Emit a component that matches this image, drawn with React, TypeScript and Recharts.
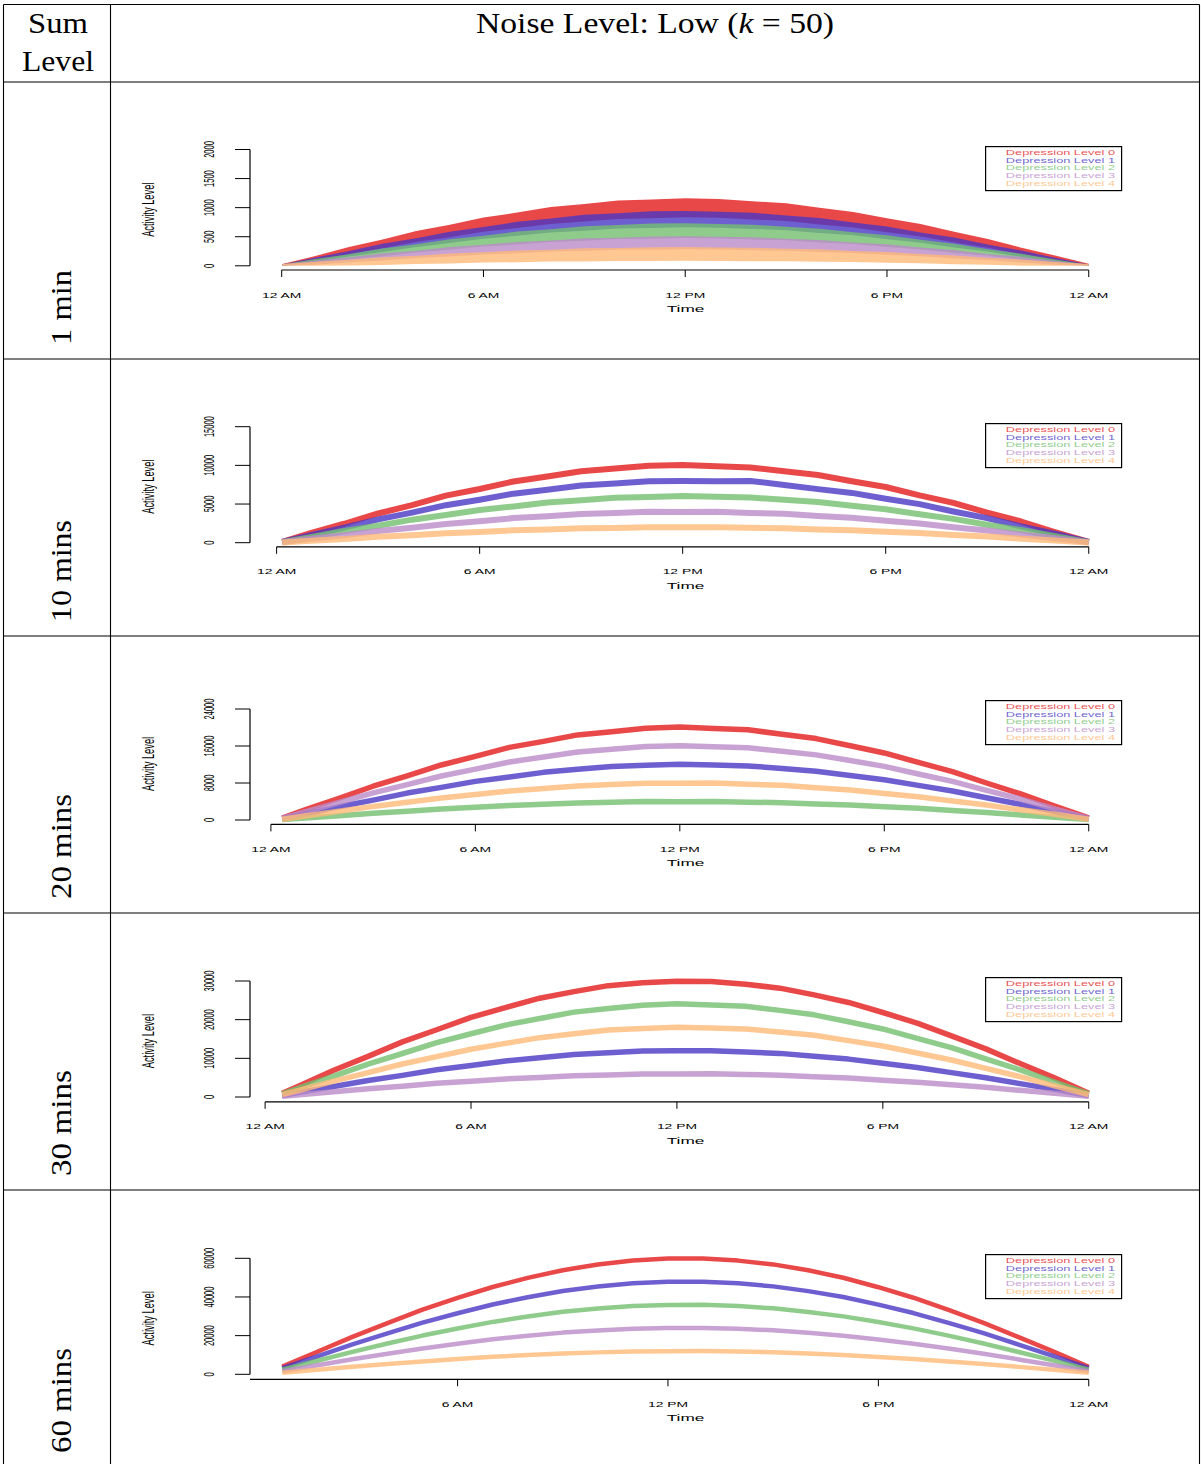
import React from 'react';
import { ComposedChart, Line, Area, XAxis, YAxis, ReferenceLine, Legend } from 'recharts';

// ---- labels -------------------------------------------------------------
const seriesNames = [
  'Depression Level 0',
  'Depression Level 1',
  'Depression Level 2',
  'Depression Level 3',
  'Depression Level 4',
];
const seriesColors = ['#E41A1C', '#4A37C4', '#73BF6F', '#BB8BC9', '#FFB977'];
const timeTickLabels = ['12 AM', '6 AM', '12 PM', '6 PM', '12 AM'];
const sumLevels = ['1 min', '10 mins', '20 mins', '30 mins', '60 mins'];
const sumLabelLengths = [75, 102, 105, 106, 105];

// ---- 1 min sums: noisy band (low / high) per level, sampled hourly -------
const oneMinX = [1, 60, 120, 180, 240, 300, 360, 420, 480, 540, 600, 660, 720, 780, 840, 900, 960, 1020, 1080, 1140, 1200, 1260, 1320, 1380, 1440];
const oneMinLow = [
  [0, 88, 204, 300, 410, 492, 586, 650, 720, 760, 806, 818, 834, 826, 798, 770, 712, 658, 576, 502, 400, 310, 196, 94, 0],
  [0, 66, 160, 236, 324, 390, 466, 516, 572, 604, 640, 650, 664, 656, 634, 612, 566, 524, 456, 398, 316, 244, 152, 70, 0],
  [0, 42, 110, 166, 230, 274, 332, 366, 410, 430, 460, 464, 476, 470, 452, 438, 402, 374, 324, 282, 222, 172, 104, 46, 0],
  [0, 18, 60, 92, 134, 160, 196, 214, 244, 254, 274, 276, 284, 280, 266, 260, 236, 220, 188, 166, 126, 98, 56, 20, 0],
  [0, 0, 6, 15, 32, 40, 55, 60, 72, 75, 83, 82, 86, 84, 80, 78, 68, 64, 51, 44, 28, 18, 3, 0, 0],
];
const oneMinHigh = [
  [30, 170, 325, 452, 598, 706, 830, 915, 1012, 1062, 1124, 1140, 1160, 1148, 1110, 1075, 998, 926, 818, 720, 584, 462, 312, 176, 34],
  [24, 142, 254, 378, 474, 586, 666, 756, 812, 876, 904, 936, 944, 928, 912, 866, 822, 744, 676, 574, 486, 368, 262, 138, 22],
  [22, 115, 200, 296, 370, 456, 516, 588, 630, 680, 700, 726, 732, 718, 708, 670, 638, 576, 524, 446, 378, 286, 206, 110, 20],
  [26, 90, 146, 214, 260, 322, 360, 410, 436, 474, 484, 504, 508, 498, 492, 464, 444, 400, 370, 314, 270, 204, 154, 84, 24],
  [32, 70, 102, 146, 172, 210, 232, 264, 278, 302, 306, 320, 322, 316, 312, 294, 284, 256, 238, 204, 178, 138, 108, 66, 30],
];

// ---- 10 min sums ----------------------------------------------------------
const tenMinX = [1, 6, 12, 18, 24, 30, 36, 42, 48, 54, 60, 66, 72, 78, 84, 90, 96, 102, 108, 114, 120, 126, 132, 138, 144];
const tenMinSeries = [
  [120, 1230, 2450, 3780, 4860, 6080, 6940, 7920, 8560, 9250, 9590, 9950, 10050, 9890, 9720, 9240, 8760, 7950, 7200, 6120, 5150, 3880, 2740, 1380, 110],
  [90, 980, 1950, 3020, 3890, 4850, 5560, 6340, 6850, 7400, 7670, 7960, 7980, 7950, 7990, 7460, 6930, 6440, 5680, 4990, 4040, 3180, 2110, 1160, 90],
  [70, 700, 1520, 2200, 2980, 3570, 4230, 4690, 5190, 5490, 5810, 5910, 6030, 5940, 5840, 5540, 5250, 4770, 4320, 3680, 3080, 2330, 1640, 830, 70],
  [50, 500, 970, 1520, 1940, 2430, 2770, 3180, 3420, 3700, 3830, 3990, 3980, 3990, 3850, 3740, 3460, 3230, 2830, 2490, 2010, 1590, 1050, 580, 50],
  [30, 250, 480, 770, 960, 1230, 1380, 1600, 1700, 1860, 1910, 2010, 1990, 2010, 1920, 1880, 1720, 1620, 1410, 1260, 1000, 800, 520, 300, 30],
];

// ---- 20 min sums ----------------------------------------------------------
const twentyMinX = [1, 3, 6, 9, 12, 15, 18, 21, 24, 27, 30, 33, 36, 39, 42, 45, 48, 51, 54, 57, 60, 63, 66, 69, 72];
const twentyMinSeries = [
  [440, 2200, 4700, 7300, 9560, 11900, 13750, 15700, 17000, 18400, 19100, 19850, 20100, 19800, 19500, 18550, 17600, 16050, 14500, 12450, 10450, 8000, 5650, 3000, 440],
  [270, 1290, 2880, 4300, 5820, 7050, 8350, 9300, 10300, 10950, 11560, 11820, 12050, 11880, 11700, 11150, 10560, 9640, 8700, 7480, 6260, 4800, 3390, 1800, 270],
  [90, 450, 930, 1480, 1900, 2390, 2740, 3150, 3390, 3690, 3820, 3980, 3970, 4000, 3860, 3750, 3480, 3250, 2870, 2530, 2050, 1630, 1100, 620, 90],
  [350, 1760, 3780, 5850, 7650, 9520, 11000, 12550, 13620, 14700, 15300, 15880, 16050, 15850, 15600, 14850, 14080, 12850, 11600, 9950, 8350, 6400, 4520, 2400, 350],
  [180, 880, 1880, 2940, 3820, 4770, 5500, 6280, 6800, 7360, 7650, 7950, 7970, 7990, 7740, 7490, 6980, 6480, 5750, 5040, 4120, 3250, 2210, 1240, 180],
];

// ---- 30 min sums ----------------------------------------------------------
const thirtyMinX = [1, 2, 4, 6, 8, 10, 12, 14, 16, 18, 20, 22, 24, 26, 28, 30, 32, 34, 36, 38, 40, 42, 44, 46, 48];
const thirtyMinSeries = [
  [990, 2900, 6900, 10500, 14250, 17400, 20600, 23100, 25550, 27250, 28800, 29550, 29950, 29900, 29150, 28150, 26400, 24450, 21850, 19100, 15800, 12450, 8650, 4950, 990],
  [400, 1190, 2700, 4280, 5600, 7050, 8150, 9330, 10150, 10980, 11450, 11880, 11960, 11990, 11650, 11280, 10540, 9800, 8720, 7650, 6300, 4990, 3450, 1980, 400],
  [800, 2380, 5400, 8520, 11250, 14050, 16350, 18600, 20300, 21950, 22900, 23750, 24100, 23800, 23450, 22400, 21250, 19450, 17600, 15150, 12750, 9850, 7020, 3880, 800],
  [200, 600, 1340, 2140, 2800, 3530, 4080, 4680, 5060, 5500, 5720, 5950, 5980, 6000, 5820, 5640, 5260, 4910, 4350, 3830, 3140, 2500, 1720, 990, 200],
  [600, 1750, 4120, 6300, 8540, 10430, 12350, 13870, 15350, 16340, 17300, 17700, 18050, 17850, 17600, 16800, 15950, 14580, 13200, 11380, 9560, 7400, 5260, 2900, 600],
];

// ---- 60 min sums ----------------------------------------------------------
const sixtyMinX = [1, 2, 3, 4, 5, 6, 7, 8, 9, 10, 11, 12, 13, 14, 15, 16, 17, 18, 19, 20, 21, 22, 23, 24];
const sixtyMinSeries = [
  [3950, 11650, 19350, 26480, 33400, 39500, 45150, 49850, 53850, 56780, 58900, 59850, 59900, 58800, 56850, 53780, 49950, 45050, 39600, 33300, 26580, 19250, 11750, 3900],
  [3150, 9330, 15460, 21200, 26700, 31600, 36120, 39880, 43080, 45420, 47100, 47880, 47920, 47050, 45480, 43020, 39950, 36050, 31680, 26640, 21250, 15400, 9380, 3130],
  [2370, 7000, 11600, 15900, 20030, 23700, 27100, 29900, 32320, 34060, 35330, 35900, 35950, 35280, 34110, 32250, 29960, 27030, 23760, 19980, 15950, 11540, 7050, 2340],
  [1580, 4660, 7750, 10580, 13360, 15790, 18080, 19920, 21560, 22700, 23560, 23920, 23980, 23500, 22750, 21500, 19990, 18010, 15850, 13310, 10640, 7690, 4700, 1560],
  [790, 2330, 3870, 5290, 6680, 7900, 9040, 9960, 10780, 11340, 11790, 11960, 11990, 11750, 11380, 10740, 9990, 9010, 7930, 6650, 5320, 3840, 2350, 780],
];

// ---- y axis ticks -----------------------------------------------------------
const oneMinTicks = [0, 500, 1000, 1500, 2000];
const tenMinTicks = [0, 5000, 10000, 15000];
const twentyMinTicks = [0, 8000, 16000, 24000];
const thirtyMinTicks = [0, 10000, 20000, 30000];
const sixtyMinTicks = [0, 20000, 40000, 60000];

// ---- layout -------------------------------------------------------------
const SX = 1.85; // horizontal stretch of the plot text
const SANS = '"Liberation Sans", Arial, Helvetica, sans-serif';
const SERIF = '"Liberation Serif", "Times New Roman", serif';
const ROW_TOP = 82;
const ROW_H = 277;
const PLOT_TOP = 67.5;
const X_AXIS_H = 50;

type Panel = {
  n: number;
  xs: number[];
  lines?: number[][];
  low?: number[][];
  high?: number[][];
  yTicks: number[];
  yTopRel: number;
  y0Rel: number;
  axisRel: number;
  strokeWidth: number;
};

const panels: Panel[] = [
  { n: 1440, xs: oneMinX, low: oneMinLow, high: oneMinHigh, yTicks: oneMinTicks, yTopRel: 67.5, y0Rel: 183.8, axisRel: 188, strokeWidth: 0 },
  { n: 144, xs: tenMinX, lines: tenMinSeries, yTicks: tenMinTicks, yTopRel: 67.7, y0Rel: 183.7, axisRel: 187.8, strokeWidth: 6 },
  { n: 72, xs: twentyMinX, lines: twentyMinSeries, yTicks: twentyMinTicks, yTopRel: 73, y0Rel: 184, axisRel: 188.4, strokeWidth: 5.5 },
  { n: 48, xs: thirtyMinX, lines: thirtyMinSeries, yTicks: thirtyMinTicks, yTopRel: 68, y0Rel: 184, axisRel: 188.8, strokeWidth: 5.5 },
  { n: 24, xs: sixtyMinX, lines: sixtyMinSeries, yTicks: sixtyMinTicks, yTopRel: 68.3, y0Rel: 184.3, axisRel: 189.3, strokeWidth: 4.5 },
];

function TimeTitle({ baseY }: any) {
  return (
    <text transform={`translate(685.5,${baseY}) scale(${SX},1)`} textAnchor="middle" fontSize={9.3} fontFamily={SANS} fill="#000">
      Time
    </text>
  );
}

function ActivityTitle({ centerY }: any) {
  return (
    <text transform={`translate(154,${centerY}) scale(${SX},1) rotate(-90)`} textAnchor="middle" fontSize={9.3} fontFamily={SANS} fill="#000">
      Activity Level
    </text>
  );
}

function LegendBox() {
  return (
    <svg width={138} height={46} style={{ display: 'block' }}>
      <rect x={0.6} y={0.6} width={136} height={44} fill="#fff" stroke="#000" strokeWidth={1.2} />
      {seriesNames.map((name, i) => (
        <text
          key={name}
          transform={`translate(130,${8.8 + i * 7.75}) scale(${SX},1)`}
          textAnchor="end"
          fontSize={6.9}
          fontFamily={SANS}
          fill={seriesColors[i]}
          fillOpacity={0.8}
        >
          {name}
        </text>
      ))}
    </svg>
  );
}

function PanelChart({ p, rowTop }: { p: Panel; rowTop: number }) {
  const maxTick = p.yTicks[p.yTicks.length - 1];
  const ppu = (p.y0Rel - p.yTopRel) / maxTick;
  const yHi = maxTick + (p.yTopRel - PLOT_TOP) / ppu;
  const yLo = -(p.axisRel - p.y0Rel) / ppu;
  const pad = 0.04 * (p.n - 1);
  const xLo = 1 - pad;
  const xHi = p.n + pad;
  const quarter = p.n / 4;
  const xTicks = [0, 1, 2, 3, 4].map((q) => q * quarter).filter((t) => t >= xLo);

  const data = p.xs.map((x, i) => {
    const row: any = { x };
    seriesNames.forEach((_, s) => {
      if (p.lines) row[`v${s}`] = p.lines[s][i];
      if (p.low && p.high) row[`b${s}`] = [p.low[s][i], p.high[s][i]];
    });
    return row;
  });

  const renderXTick = (props: any) => {
    const { x, payload } = props;
    const idx = Math.round(payload.value / quarter);
    return (
      <text transform={`translate(${x},${p.axisRel + 27.6}) scale(${SX},1)`} textAnchor="middle" fontSize={7.5} fontFamily={SANS} fill="#000">
        {timeTickLabels[idx]}
      </text>
    );
  };

  const renderYTick = (props: any) => {
    const { y, payload } = props;
    return (
      <text transform={`translate(214,${y}) scale(${SX},1) rotate(-90)`} textAnchor="middle" fontSize={7.5} fontFamily={SANS} fill="#000">
        {payload.value}
      </text>
    );
  };

  return (
    <div style={{ position: 'absolute', left: 0, top: rowTop }}>
      <ComposedChart
        width={1201}
        height={ROW_H}
        data={data}
        margin={{ top: PLOT_TOP, right: 80, bottom: ROW_H - X_AXIS_H - p.axisRel, left: 130 }}
      >
        <XAxis
          type="number"
          dataKey="x"
          domain={[xLo, xHi]}
          ticks={xTicks}
          interval={0}
          tickSize={7}
          height={X_AXIS_H}
          axisLine={false}
          tickLine={{ stroke: '#000', strokeWidth: 1 }}
          tick={renderXTick}
          label={<TimeTitle baseY={p.axisRel + 42} />}
        />
        <YAxis
          type="number"
          domain={[yLo, yHi]}
          ticks={p.yTicks}
          interval={0}
          tickSize={15}
          width={120}
          axisLine={false}
          tickLine={{ stroke: '#000', strokeWidth: 1 }}
          tick={renderYTick}
          label={<ActivityTitle centerY={(PLOT_TOP + p.axisRel) / 2} />}
        />
        <ReferenceLine
          segment={[{ x: Math.max(0, xLo), y: yLo }, { x: p.n, y: yLo }]}
          stroke="#000"
          strokeWidth={1.2}
          ifOverflow="visible"
        />
        <ReferenceLine
          segment={[{ x: xLo, y: 0 }, { x: xLo, y: maxTick }]}
          stroke="#000"
          strokeWidth={1.2}
          ifOverflow="visible"
        />
        {p.low &&
          seriesNames.map((name, s) => (
            <Area
              key={name}
              name={name}
              type="linear"
              dataKey={`b${s}`}
              stroke="none"
              fill={seriesColors[s]}
              fillOpacity={0.8}
              dot={false}
              activeDot={false}
              isAnimationActive={false}
            />
          ))}
        {p.lines &&
          seriesNames.map((name, s) => (
            <Line
              key={name}
              name={name}
              type="linear"
              dataKey={`v${s}`}
              stroke={seriesColors[s]}
              strokeOpacity={0.8}
              strokeWidth={p.strokeWidth}
              strokeLinejoin="round"
              dot={false}
              activeDot={false}
              isAnimationActive={false}
            />
          ))}
        <Legend
          layout="vertical"
          align="center"
          verticalAlign="middle"
          wrapperStyle={{ position: 'absolute', left: 985, top: PLOT_TOP - 3.5, width: 138, height: 46, margin: 0, padding: 0 }}
          content={() => <LegendBox />}
        />
      </ComposedChart>
    </div>
  );
}

function TableFrame() {
  const rowLines = [4.5, 82, 359, 636, 913, 1190];
  return (
    <svg width={1201} height={1464} style={{ position: 'absolute', left: 0, top: 0 }}>
      {rowLines.map((y) => (
        <line key={y} x1={3.5} x2={1199.5} y1={y} y2={y} stroke="#000" strokeWidth={1.1} />
      ))}
      {[3.5, 110.5, 1199.5].map((x) => (
        <line key={x} x1={x} x2={x} y1={4.5} y2={1464} stroke="#000" strokeWidth={1.1} />
      ))}
      <text x={58} y={33} textAnchor="middle" fontSize={29} fontFamily={SERIF} textLength={60} lengthAdjust="spacingAndGlyphs">
        Sum
      </text>
      <text x={58} y={71} textAnchor="middle" fontSize={29} fontFamily={SERIF} textLength={72} lengthAdjust="spacingAndGlyphs">
        Level
      </text>
      <text x={655} y={33} textAnchor="middle" fontSize={29} fontFamily={SERIF} textLength={358} lengthAdjust="spacingAndGlyphs">
        Noise Level: Low (<tspan fontStyle="italic">k</tspan> = 50)
      </text>
      {sumLevels.map((label, k) => {
        const rowBottom = ROW_TOP + ROW_H * (k + 1);
        return (
          <text
            key={label}
            transform={`translate(71,${rowBottom - 14}) rotate(-90)`}
            textAnchor="start"
            fontSize={29}
            fontFamily={SERIF}
            textLength={sumLabelLengths[k]}
            lengthAdjust="spacingAndGlyphs"
          >
            {label}
          </text>
        );
      })}
    </svg>
  );
}

export default function App() {
  return (
    <div style={{ position: 'absolute', left: 0, top: 0, width: 1201, height: 1464, overflow: 'hidden', background: '#fff' }}>
      <TableFrame />
      {panels.map((p, k) => (
        <PanelChart key={k} p={p} rowTop={ROW_TOP + ROW_H * k} />
      ))}
    </div>
  );
}
